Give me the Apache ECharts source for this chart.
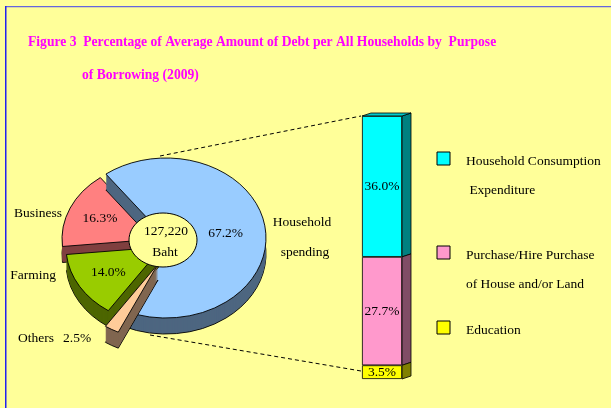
<!DOCTYPE html>
<html>
<head>
<meta charset="utf-8">
<script src="https://cdn.jsdelivr.net/npm/echarts@6/dist/echarts.min.js"></script>
<style>
  html, body { margin: 0; padding: 0; background: #ffff99; }
  #main { width: 611px; height: 408px; }
</style>
</head>
<body>
<div id="main"></div>
<script>
// data
const pieNames = ['Household spending', 'Business', 'Farming', 'Others']
const pieValues = [67.2, 16.3, 14.0, 2.5]
const totalDebt = '127,220'
const barNames = ['Household Consumption\n Expenditure', 'Purchase/Hire Purchase\nof House and/or Land', 'Education']
const barValues = [36.0, 27.7, 3.5]

// looks
const serif = 'Liberation Serif'
const bodyFont = '13.5px ' + serif
const pieTop = ['#99ccff', '#ff8080', '#99cc00', '#ffcc99']
const pieSide = ['#4d6680', '#804040', '#4d6600', '#806650']
const barTop = ['#00ffff', '#ff99cc', '#ffff00']
const barSide = ['#008080', '#804d66', '#808000']
const pieCenter = [160, 240]
const explode = [[6, -2], [-2, -1], [2, 7], [-2, 24]]
const radii = [100, 96, 96, 94]
const labelDist = [0.6, 0.66, 0.65, 0]
const tilt = 0.8
const depth = 16
const pieStart = -115 // degrees, counter-clockwise from 3 o'clock
const drawOrder = [1, 0, 2, 3]

// slice angles
const sliceAngles = []
let acc = pieStart
pieValues.forEach(v => {
  sliceAngles.push([acc, acc + v * 3.6])
  acc += v * 3.6
})

function renderSlice(params, api) {
  const i = drawOrder[params.dataIndex]
  const [a0, a1] = sliceAngles[i]
  const cx = pieCenter[0] + explode[i][0]
  const cy = pieCenter[1] + explode[i][1]
  const r = radii[i]
  const shape = {
    cx: 0, cy: 0, r: r, r0: 0,
    startAngle: -a1 * Math.PI / 180,
    endAngle: -a0 * Math.PI / 180,
    clockwise: true
  }
  const children = []
  // side: stacked copies of the slice pushed down
  for (let d = depth; d >= 1; d--) {
    children.push({
      type: 'group', x: cx, y: cy + d, scaleY: tilt,
      children: [{
        type: 'sector', shape: shape,
        style: d === depth
          ? { fill: pieSide[i], stroke: '#000', lineWidth: 1 }
          : { fill: pieSide[i] }
      }]
    })
  }
  children.push({
    type: 'group', x: cx, y: cy, scaleY: tilt,
    children: [{
      type: 'sector', shape: shape,
      style: { fill: pieTop[i], stroke: '#000', lineWidth: 1 }
    }]
  })
  if (labelDist[i] > 0) {
    const mid = (a0 + a1) / 2 * Math.PI / 180
    children.push({
      type: 'text',
      x: cx + labelDist[i] * r * Math.cos(mid),
      y: cy - labelDist[i] * r * Math.sin(mid) * tilt,
      style: {
        text: api.value(0).toFixed(1) + '%',
        fill: '#000', font: bodyFont,
        align: 'center', verticalAlign: 'middle'
      }
    })
  }
  return { type: 'group', children: children }
}

// stack order bottom -> top: Education, Purchase, Household
const stackOrder = [2, 1, 0]
const barBase = []
let run = 0
stackOrder.forEach(i => { barBase[i] = run; run += barValues[i] })

function renderBarSide(params, api) {
  const i = params.dataIndex
  const lo = api.coord([0, barBase[i]])
  const hi = api.coord([0, barBase[i] + barValues[i]])
  const w = api.size([1, 0])[0]
  const xl = lo[0] - w / 2
  const xr = lo[0] + w / 2
  const sx = 9, sy = 3
  const children = [{
    type: 'polygon',
    shape: { points: [[xr, hi[1]], [xr + sx, hi[1] - sy], [xr + sx, lo[1] - sy], [xr, lo[1]]] },
    style: { fill: barSide[i], stroke: '#000', lineWidth: 0.8 }
  }]
  if (barBase[i] + barValues[i] === run) {
    children.push({
      type: 'polygon',
      shape: { points: [[xl, hi[1]], [xl + sx, hi[1] - sy], [xr + sx, hi[1] - sy], [xr, hi[1]]] },
      style: { fill: '#00cccc', stroke: '#000', lineWidth: 0.8 }
    })
  }
  return { type: 'group', children: children }
}

const barSeries = stackOrder.map(i => ({
  type: 'bar',
  name: barNames[i],
  stack: 'debt',
  barWidth: '100%',
  z: 3,
  data: [barValues[i]],
  itemStyle: { color: barTop[i], borderColor: '#000', borderWidth: 0.8 },
  label: {
    show: true, position: 'inside',
    formatter: p => p.value.toFixed(1) + '%',
    color: '#000', fontFamily: serif, fontSize: 13.5
  },
  silent: true,
  animation: false
}))

const legendItems = []
const legendY = [159, 253, 328]
barNames.forEach((n, i) => {
  legendItems.push({
    type: 'rect', shape: { x: 437, y: legendY[i] - 7, width: 13, height: 13 },
    style: { fill: barTop[i], stroke: '#000', lineWidth: 1 }
  })
  legendItems.push({
    type: 'text', x: 466, y: legendY[i] + 2 - 14.75,
    style: {
      text: n, fill: '#000', font: bodyFont,
      lineHeight: 29.5, verticalAlign: 'top'
    }
  })
})

const textStyle = { fill: '#000', font: bodyFont, verticalAlign: 'middle' }
const titleFont = 'bold 13.6px ' + serif

const chart = echarts.init(document.getElementById('main'))
chart.setOption({
  backgroundColor: '#ffff99',
  animation: false,
  grid: { left: 362, width: 40, top: 116, bottom: 29 },
  xAxis: { type: 'category', data: ['debt'], show: false },
  yAxis: { type: 'value', min: 0, max: run, show: false },
  series: [
    {
      type: 'custom',
      coordinateSystem: 'none',
      renderItem: renderSlice,
      data: drawOrder.map(i => ({ name: pieNames[i], value: [pieValues[i]] })),
      silent: true,
      z: 2
    },
    {
      type: 'custom',
      renderItem: renderBarSide,
      data: barValues.map(v => [0, v]),
      silent: true,
      z: 1
    }
  ].concat(barSeries),
  graphic: [
    { type: 'rect', shape: { x: 5, y: 6, width: 606, height: 1.2 }, style: { fill: '#6666dd' } },
    { type: 'rect', shape: { x: 5, y: 6, width: 1.5, height: 402 }, style: { fill: '#2222ee' } },
    {
      type: 'text', x: 28, y: 42,
      style: { text: 'Figure 3  Percentage of Average Amount of Debt per All Households by  Purpose', font: titleFont, fill: '#ff00ff', verticalAlign: 'middle' }
    },
    {
      type: 'text', x: 82, y: 75,
      style: { text: 'of Borrowing (2009)', font: titleFont, fill: '#ff00ff', verticalAlign: 'middle' }
    },
    { type: 'line', shape: { x1: 160, y1: 156, x2: 361, y2: 116 }, style: { stroke: '#000', lineDash: [4, 3], lineWidth: 1 }, z: 1 },
    { type: 'line', shape: { x1: 150, y1: 335, x2: 361, y2: 371 }, style: { stroke: '#000', lineDash: [4, 3], lineWidth: 1 }, z: 1 },
    {
      type: 'ellipse', shape: { cx: 163, cy: 240, rx: 34, ry: 27 },
      style: { fill: '#ffff99', stroke: '#000', lineWidth: 1 }, z: 10
    },
    { type: 'text', x: 166, y: 231, z: 11, style: Object.assign({ text: totalDebt, align: 'center' }, textStyle) },
    { type: 'text', x: 165, y: 252, z: 11, style: Object.assign({ text: 'Baht', align: 'center' }, textStyle) },
    { type: 'text', x: 62, y: 213, z: 11, style: Object.assign({ text: pieNames[1], align: 'right' }, textStyle) },
    { type: 'text', x: 56, y: 275, z: 11, style: Object.assign({ text: pieNames[2], align: 'right' }, textStyle) },
    { type: 'text', x: 18, y: 338, z: 11, style: Object.assign({ text: pieNames[3], align: 'left' }, textStyle) },
    { type: 'text', x: 63, y: 338, z: 11, style: Object.assign({ text: pieValues[3].toFixed(1) + '%', align: 'left' }, textStyle) },
    { type: 'text', x: 302, y: 222, z: 11, style: Object.assign({ text: 'Household', align: 'center' }, textStyle) },
    { type: 'text', x: 305, y: 252, z: 11, style: Object.assign({ text: 'spending', align: 'center' }, textStyle) }
  ].concat(legendItems)
})
</script>
</body>
</html>
